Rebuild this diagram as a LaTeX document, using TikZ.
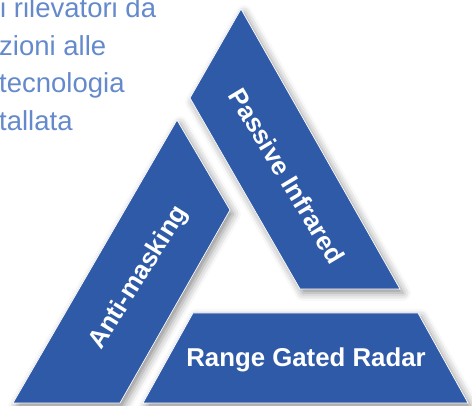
\documentclass[tikz,border=0pt]{standalone}
\usepackage{fontspec}
\setmainfont{Liberation Sans}
\usetikzlibrary{shadows.blur}
\definecolor{panelblue}{RGB}{47,90,168}
\definecolor{introblue}{RGB}{100,138,204}
\tikzset{
  panel/.style={fill=panelblue, draw=white, line width=0.7pt, line join=miter,
    blur shadow={shadow xshift=3pt, shadow yshift=-4pt, shadow blur radius=8pt,
      shadow opacity=45}},
  paneltext/.style={text=white, font=\fontsize{25.8}{30}\selectfont\bfseries,
    inner sep=0pt},
  introline/.style={text=introblue, font=\fontsize{27.5}{32}\selectfont,
    anchor=base west, inner sep=0pt}
}
\begin{document}
\begin{tikzpicture}[x=1pt, y=1pt]
  \useasboundingbox (0,0) rectangle (472,406);

  % intro paragraph, cut by the left edge
  \node[introline] (l1) at (0,388) {i rilevatori da};
  \node[introline] (l2) at (-1,350) {zioni alle};
  \node[introline] (l3) at (-1,313) {tecnologia};
  \node[introline] (l4) at (-1,275) {tallata};

  % the three sides of the triangle
  \path[panel] (241,397) -- (400,117) -- (300,117) -- (190,308) -- cycle;
  \path[panel] (177,286) -- (230,196) -- (120,3) -- (13,3) -- cycle;
  \path[panel] (193,93) -- (418,93) -- (468,3) -- (143,3) -- cycle;

  % labels
  \node[paneltext, rotate=-59] (pir) at (287,230) {Passive Infrared};
  \node[paneltext, rotate=58] (am) at (139,128) {Anti-masking};
  \node[paneltext, anchor=base] (rgr) at (306,39) {Range Gated Radar};
\end{tikzpicture}
\end{document}
